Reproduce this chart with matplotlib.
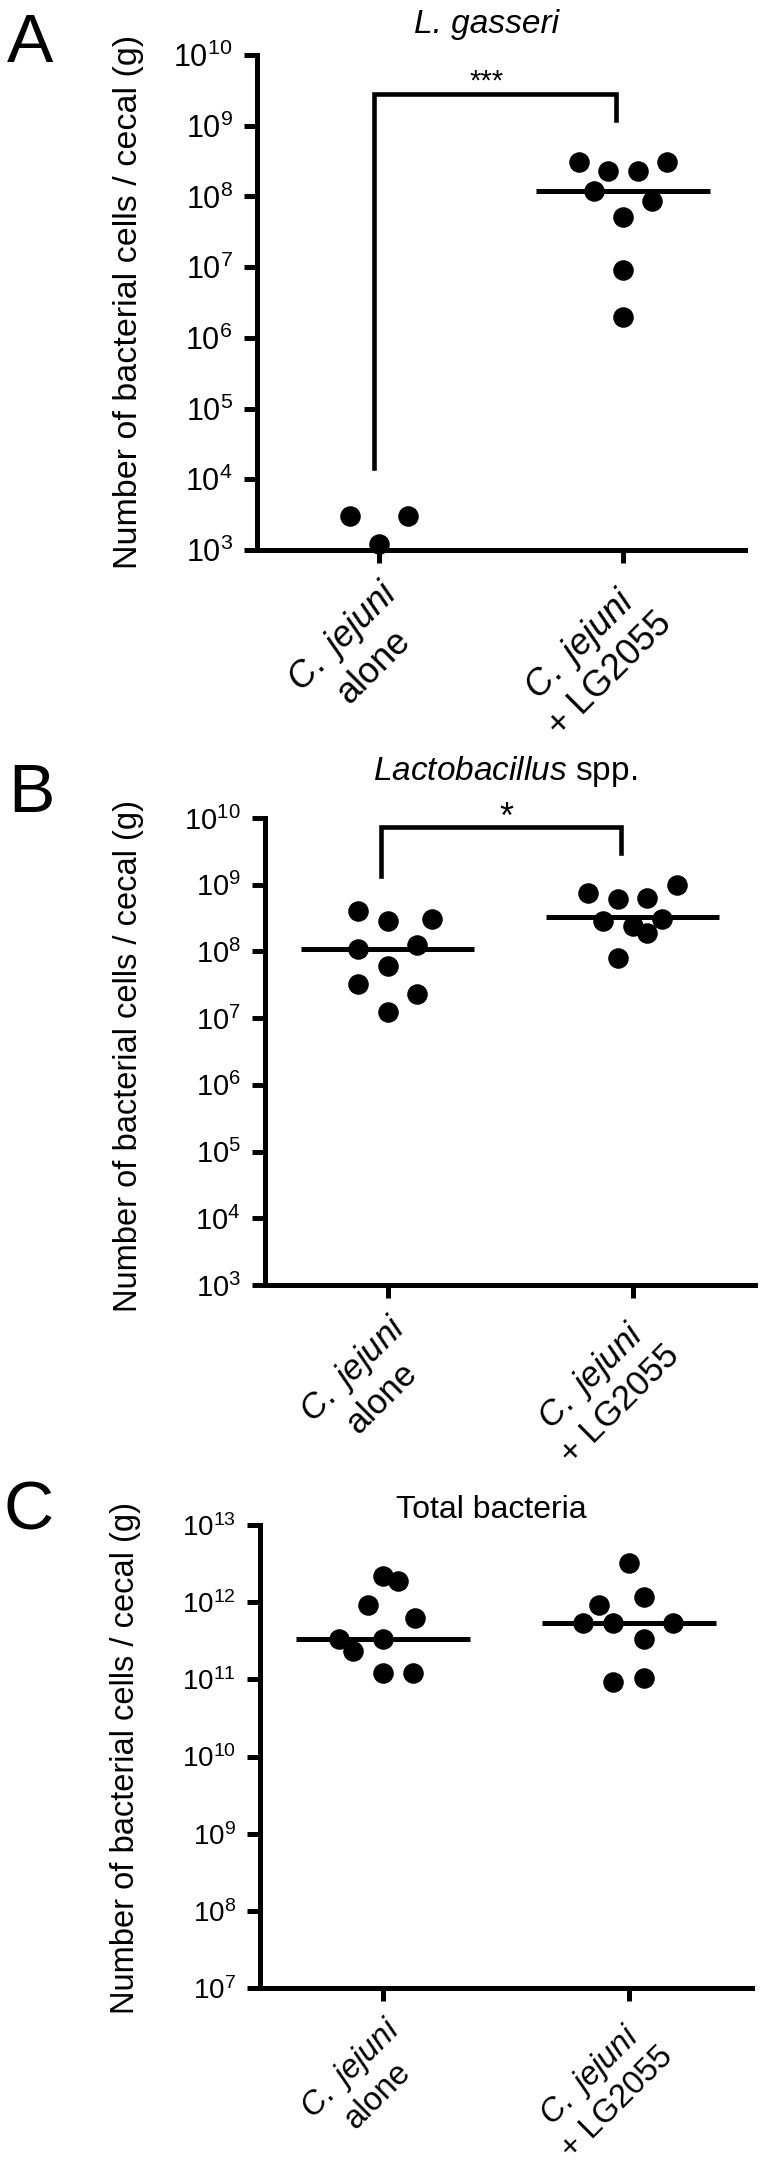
import matplotlib
matplotlib.use("Agg")
import matplotlib.pyplot as plt
from matplotlib.ticker import NullLocator

plt.rcParams['font.family'] = ['Liberation Sans', 'DejaVu Sans']
plt.rcParams['mathtext.fontset'] = 'custom'
plt.rcParams['mathtext.rm'] = 'Liberation Sans'
plt.rcParams['mathtext.it'] = 'Liberation Sans:italic'

# Gruppen (x-Achse)
groups = [r'$\it{C.\ jejuni}$' + '\nalone', r'$\it{C.\ jejuni}$' + '\n+ LG2055']
ylabel = "Number of bacterial cells / cecal (g)"

# A: L. gasseri
gas_alone = [3.0e3, 3.0e3, 1.2e3]
gas_lg = [3.1e8, 2.3e8, 2.3e8, 3.1e8, 1.2e8, 8.5e7, 5.2e7, 9.1e6, 2.0e6]
gas_median = [None, 1.2e8]

# B: Lactobacillus spp.
lac_alone = [4.0e8, 2.9e8, 3.1e8, 1.1e8, 1.25e8, 6.0e7, 3.2e7, 2.3e7, 1.25e7]
lac_lg = [7.4e8, 6.2e8, 6.3e8, 1.0e9, 2.9e8, 2.4e8, 1.9e8, 3.1e8, 7.9e7]
lac_median = [1.1e8, 3.3e8]

# C: Total bacteria
tot_alone = [2.2e12, 1.9e12, 9.3e11, 6.3e11, 3.3e11, 3.3e11, 2.3e11, 1.2e11, 1.2e11]
tot_lg = [3.2e12, 9.3e11, 1.15e12, 5.4e11, 5.4e11, 5.4e11, 3.3e11, 9.3e10, 1.05e11]
tot_median = [3.3e11, 5.4e11]

# Streuung der Punkte (Kategorie-Einheiten)
jit_gas_alone = [-0.12, 0.12, 0]
jit_gas_lg = [-0.18, -0.06, 0.06, 0.18, -0.12, 0.12, 0, 0, 0]
jit_lac_alone = [-0.12, 0, 0.18, -0.12, 0.12, 0, -0.12, 0.12, 0]
jit_lac_lg = [-0.18, -0.06, 0.06, 0.18, -0.12, 0, 0.06, 0.12, -0.06]
jit_tot_alone = [0, 0.06, -0.06, 0.13, -0.18, 0, -0.12, 0, 0.12]
jit_tot_lg = [0, -0.12, 0.06, -0.185, -0.066, 0.18, 0.06, -0.066, 0.06]

W, H = 766, 2168
fig = plt.figure(figsize=(W / 100, H / 100), dpi=100)


def px_axes(left, top, right, bottom):
    return fig.add_axes([left / W, 1 - bottom / H, (right - left) / W, (bottom - top) / H])


def ftext(x, y, s, **kw):
    fig.text(x / W, 1 - y / H, s, **kw)


def panel(ax, alone, lg, jit_a, jit_l, med, ymin, ymax, tick_fs, lab_fs):
    ax.set_yscale('log')
    ax.set_ylim(10.0 ** ymin, 10.0 ** ymax)
    ax.set_xlim(-0.5, 1.5)
    for s in ['top', 'right']:
        ax.spines[s].set_visible(False)
    for s in ['left', 'bottom']:
        ax.spines[s].set_linewidth(3.6)
    ax.set_yticks([10.0 ** k for k in range(ymin, ymax + 1)])
    ax.set_yticklabels(['$10^{%d}$' % k for k in range(ymin, ymax + 1)])
    ax.yaxis.set_minor_locator(NullLocator())
    ax.tick_params(width=3.6, length=9.5, pad=8)
    ax.tick_params(axis='y', labelsize=tick_fs)
    ax.set_xticks([0, 1])
    ax.set_xticklabels(groups, rotation=45, ha='right', va='top',
                       rotation_mode='anchor', fontsize=lab_fs, multialignment='center')
    ax.scatter([0 + j for j in jit_a], alone, s=190, color='black', zorder=5, clip_on=False)
    ax.scatter([1 + j for j in jit_l], lg, s=190, color='black', zorder=5, clip_on=False)
    for i, m in enumerate(med):
        if m is not None:
            ax.hlines(m, i - 0.355, i + 0.355, color='black', lw=3.6, zorder=4)


# Panel A
axA = px_axes(257, 55, 745, 550)
panel(axA, gas_alone, gas_lg, jit_gas_alone, jit_gas_lg, gas_median, 3, 10, 22, 26)
axA.plot([-0.02, -0.02, 0.97, 0.97], [10 ** 4.16, 10 ** 9.45, 10 ** 9.45, 10 ** 9.08],
         color='black', lw=3.3, solid_joinstyle='miter')
axA.text(0.44, 10 ** 9.62, '***', ha='center', va='center', fontsize=21)
ftext(487, 33, 'L. gasseri', ha='center', va='baseline', fontsize=24, style='italic')
ftext(30, 62, 'A', ha='center', va='baseline', fontsize=50)
ftext(129, 302, ylabel, ha='center', va='center', rotation=90, fontsize=24.5)

# Panel B
axB = px_axes(265, 818, 755, 1285)
panel(axB, lac_alone, lac_lg, jit_lac_alone, jit_lac_lg, lac_median, 3, 10, 21, 25)
axB.plot([-0.025, -0.025, 0.955, 0.955], [10 ** 9.13, 10 ** 9.87, 10 ** 9.87, 10 ** 9.48],
         color='black', lw=3.3, solid_joinstyle='miter')
axB.text(0.486, 10 ** 10.0, '*', ha='center', va='center', fontsize=26)
ftext(505, 780, r'$\it{Lactobacillus}$ spp.', ha='center', va='baseline', fontsize=24)
ftext(31, 812, 'B', ha='center', va='baseline', fontsize=50)
ftext(129, 1056, ylabel, ha='center', va='center', rotation=90, fontsize=23.5)

# Panel C
axC = px_axes(260, 1525, 752, 1988)
panel(axC, tot_alone, tot_lg, jit_tot_alone, jit_tot_lg, tot_median, 7, 13, 20, 23.5)
ftext(491, 1518, 'Total bacteria', ha='center', va='baseline', fontsize=23)
ftext(29, 1529, 'C', ha='center', va='baseline', fontsize=50)
ftext(126, 1758, ylabel, ha='center', va='center', rotation=90, fontsize=23.5)

fig.savefig('out.png', dpi=100)
